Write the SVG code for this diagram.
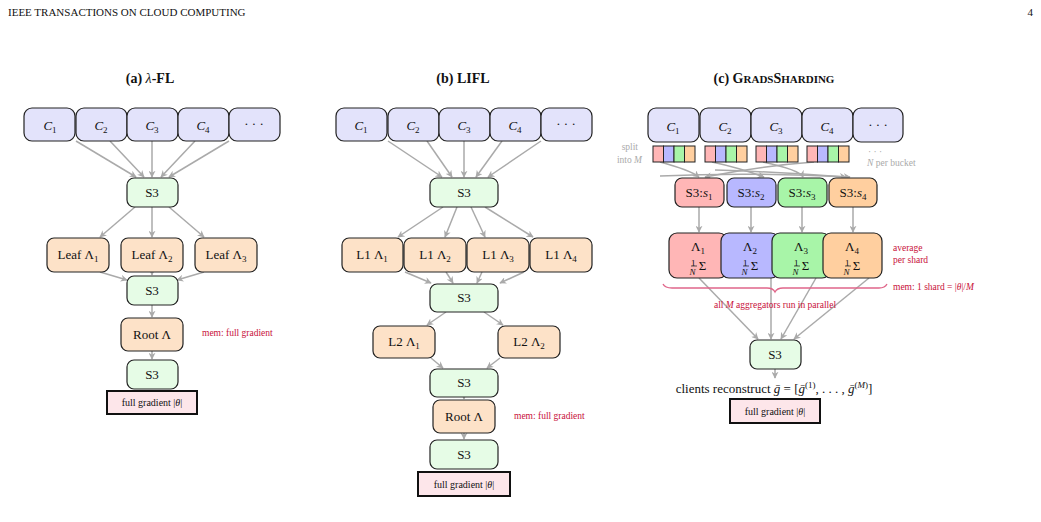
<svg xmlns="http://www.w3.org/2000/svg" width="1041" height="522" viewBox="0 0 1041 522">
<defs>
<marker id="ah" viewBox="0 0 10 10" refX="9" refY="5" markerWidth="7" markerHeight="7" orient="auto" markerUnits="userSpaceOnUse"><path d="M0,0 L10,5 L0,10 L3,5 z" fill="#aaa"/></marker>
</defs>
<style>
text{font-family:"Liberation Serif",serif;fill:#111}
.n{stroke:#222;stroke-width:1.2}
.c{fill:#e3e3fb}.s{fill:#e6fce6}.o{fill:#fde2c8}
.fg{fill:#fde6ea;stroke:#111;stroke-width:2}
.t{font-size:13px;text-anchor:middle}
.sm{font-size:10px;text-anchor:middle}
.mem{font-size:9.5px;fill:#c8103a}
.gr{font-size:9.5px;fill:#aaa}
.e path,.e line{stroke:#aaa;stroke-width:1.5;fill:none;marker-end:url(#ah)}
.ti{font-size:14px;font-weight:bold;text-anchor:middle}
.bk rect{stroke:#222;stroke-width:1}
</style>
<rect width="1041" height="522" fill="#fff"/>
<text x="8" y="16" font-size="11">IEEE TRANSACTIONS ON CLOUD COMPUTING</text>
<text x="1033" y="16" font-size="11" text-anchor="end">4</text>
<text class="ti" x="150" y="83">(a) <tspan font-style="italic" font-weight="normal">λ</tspan>-FL</text>
<text class="ti" x="463" y="83">(b) LIFL</text>
<text class="ti" x="774" y="83">(c) G<tspan font-size="11">RADS</tspan>S<tspan font-size="11">HARDING</tspan></text>

<g class="e" id="edges">
<!-- a -->
<line x1="76" y1="141" x2="136" y2="177"/><line x1="110" y1="141" x2="144" y2="177"/><line x1="152" y1="141" x2="152" y2="177"/><line x1="195" y1="141" x2="161" y2="177"/><line x1="229" y1="141" x2="169" y2="177"/>
<line x1="135" y1="207" x2="100" y2="237"/><line x1="152" y1="207" x2="152" y2="237"/><line x1="169" y1="207" x2="204" y2="237"/>
<line x1="100" y1="272" x2="127" y2="280"/><line x1="152" y1="262" x2="152" y2="275"/><line x1="204" y1="272" x2="177" y2="280"/>
<line x1="152" y1="305" x2="152" y2="317"/><line x1="152" y1="351" x2="152" y2="359"/>
<!-- b -->
<line x1="388" y1="141" x2="442" y2="177"/><line x1="427" y1="141" x2="452" y2="177"/><line x1="464" y1="141" x2="464" y2="177"/><line x1="502" y1="141" x2="476" y2="177"/><line x1="541" y1="141" x2="488" y2="177"/>
<line x1="443" y1="207" x2="398" y2="237"/><line x1="457" y1="207" x2="445" y2="237"/><line x1="471" y1="207" x2="485" y2="237"/><line x1="485" y1="207" x2="533" y2="237"/>
<line x1="405" y1="272" x2="431" y2="283"/><line x1="446" y1="272" x2="453" y2="283"/><line x1="482" y1="272" x2="477" y2="283"/><line x1="524" y1="272" x2="500" y2="283"/>
<line x1="446" y1="312" x2="427" y2="325"/><line x1="484" y1="312" x2="503" y2="325"/>
<line x1="431" y1="358" x2="443" y2="368"/><line x1="500" y1="358" x2="487" y2="368"/>
<line x1="464" y1="385" x2="464" y2="399"/><line x1="464" y1="425" x2="464" y2="439"/>
<!-- c -->
<path d="M660,162 Q690,170 699,177"/><path d="M712,162 Q740,168 764,177"/><path d="M763,162 Q800,170 803,177"/><path d="M660,176 Q750,172 850,177"/>
<path d="M814,162 Q760,166 705,177"/><path d="M715,170 Q780,172 846,177" />
<line x1="699" y1="207" x2="699" y2="232"/><line x1="751" y1="207" x2="751" y2="232"/><line x1="802" y1="207" x2="802" y2="232"/><line x1="853" y1="207" x2="853" y2="232"/>
<line x1="699" y1="278" x2="758" y2="339"/><line x1="771" y1="278" x2="771" y2="339"/><line x1="816" y1="278" x2="781" y2="339"/><line x1="869" y1="278" x2="794" y2="339"/>
<line x1="775" y1="369" x2="775" y2="378"/>
</g>

<g id="a-nodes">
<g id="a-c1"><rect class="n c" x="24" y="108" width="51" height="33" rx="8"/><text class="t" x="50" y="130" font-style="italic">C<tspan font-size="9" dy="3" font-style="normal">1</tspan></text></g>
<g id="a-c2"><rect class="n c" x="76" y="108" width="51" height="33" rx="8"/><text class="t" x="101" y="130" font-style="italic">C<tspan font-size="9" dy="3" font-style="normal">2</tspan></text></g>
<g id="a-c3"><rect class="n c" x="127" y="108" width="51" height="33" rx="8"/><text class="t" x="152" y="130" font-style="italic">C<tspan font-size="9" dy="3" font-style="normal">3</tspan></text></g>
<g id="a-c4"><rect class="n c" x="178" y="108" width="51" height="33" rx="8"/><text class="t" x="203" y="130" font-style="italic">C<tspan font-size="9" dy="3" font-style="normal">4</tspan></text></g>
<g id="a-c5"><rect class="n c" x="229" y="108" width="51" height="33" rx="8"/><text class="t" x="254" y="128">· · ·</text></g>
<g id="a-s1"><rect class="n s" x="127" y="178" width="51" height="29" rx="7"/><text class="t" x="152" y="197">S3</text></g>
<g id="a-l1"><rect class="n o" x="47" y="238" width="62" height="34" rx="7"/><text class="t" x="78" y="259">Leaf Λ<tspan font-size="9" dy="3">1</tspan></text></g>
<g id="a-l2"><rect class="n o" x="121" y="238" width="62" height="34" rx="7"/><text class="t" x="152" y="259">Leaf Λ<tspan font-size="9" dy="3">2</tspan></text></g>
<g id="a-l3"><rect class="n o" x="195" y="238" width="62" height="34" rx="7"/><text class="t" x="226" y="259">Leaf Λ<tspan font-size="9" dy="3">3</tspan></text></g>
<g id="a-s2"><rect class="n s" x="127" y="276" width="51" height="29" rx="7"/><text class="t" x="152" y="295">S3</text></g>
<g id="a-r"><rect class="n o" x="121" y="318" width="62" height="33" rx="7"/><text class="t" x="152" y="339">Root Λ</text></g>
<text class="mem" x="202" y="336">mem: full gradient</text>
<g id="a-s3"><rect class="n s" x="127" y="360" width="51" height="29" rx="7"/><text class="t" x="152" y="379">S3</text></g>
<g id="a-fg"><rect class="fg" x="107" y="391" width="90" height="23"/><text class="sm" x="152" y="406">full gradient |<tspan font-style="italic">θ</tspan>|</text></g>
</g>

<g id="b-nodes">
<g id="b-c1"><rect class="n c" x="336" y="108" width="51" height="33" rx="8"/><text class="t" x="361" y="130" font-style="italic">C<tspan font-size="9" dy="3" font-style="normal">1</tspan></text></g>
<g id="b-c2"><rect class="n c" x="388" y="108" width="51" height="33" rx="8"/><text class="t" x="413" y="130" font-style="italic">C<tspan font-size="9" dy="3" font-style="normal">2</tspan></text></g>
<g id="b-c3"><rect class="n c" x="439" y="108" width="51" height="33" rx="8"/><text class="t" x="464" y="130" font-style="italic">C<tspan font-size="9" dy="3" font-style="normal">3</tspan></text></g>
<g id="b-c4"><rect class="n c" x="490" y="108" width="51" height="33" rx="8"/><text class="t" x="515" y="130" font-style="italic">C<tspan font-size="9" dy="3" font-style="normal">4</tspan></text></g>
<g id="b-c5"><rect class="n c" x="541" y="108" width="51" height="33" rx="8"/><text class="t" x="566" y="128">· · ·</text></g>
<g id="b-s1"><rect class="n s" x="430" y="178" width="68" height="29" rx="7"/><text class="t" x="464" y="197">S3</text></g>
<g id="b-l1"><rect class="n o" x="342" y="238" width="61" height="34" rx="7"/><text class="t" x="372" y="259">L1 Λ<tspan font-size="9" dy="3">1</tspan></text></g>
<g id="b-l2"><rect class="n o" x="404" y="238" width="62" height="34" rx="7"/><text class="t" x="435" y="259">L1 Λ<tspan font-size="9" dy="3">2</tspan></text></g>
<g id="b-l3"><rect class="n o" x="467" y="238" width="62" height="34" rx="7"/><text class="t" x="498" y="259">L1 Λ<tspan font-size="9" dy="3">3</tspan></text></g>
<g id="b-l4"><rect class="n o" x="530" y="238" width="62" height="34" rx="7"/><text class="t" x="561" y="259">L1 Λ<tspan font-size="9" dy="3">4</tspan></text></g>
<g id="b-s2"><rect class="n s" x="430" y="284" width="68" height="28" rx="7"/><text class="t" x="464" y="302">S3</text></g>
<g id="b-m1"><rect class="n o" x="373" y="326" width="62" height="32" rx="7"/><text class="t" x="404" y="346">L2 Λ<tspan font-size="9" dy="3">1</tspan></text></g>
<g id="b-m2"><rect class="n o" x="498" y="326" width="62" height="32" rx="7"/><text class="t" x="529" y="346">L2 Λ<tspan font-size="9" dy="3">2</tspan></text></g>
<g id="b-s3"><rect class="n s" x="430" y="369" width="68" height="28" rx="7"/><text class="t" x="464" y="387">S3</text></g>
<g id="b-r"><rect class="n o" x="433" y="400" width="62" height="33" rx="7"/><text class="t" x="464" y="421">Root Λ</text></g>
<text class="mem" x="514" y="419">mem: full gradient</text>
<g id="b-s4"><rect class="n s" x="430" y="440" width="68" height="29" rx="7"/><text class="t" x="464" y="459">S3</text></g>
<g id="b-fg"><rect class="fg" x="418" y="472" width="92" height="24"/><text class="sm" x="464" y="488">full gradient |<tspan font-style="italic">θ</tspan>|</text></g>
</g>

<g id="c-nodes">
<g id="c-c1"><rect class="n c" x="648" y="108" width="51" height="34" rx="8"/><text class="t" x="673" y="131" font-style="italic">C<tspan font-size="9" dy="3" font-style="normal">1</tspan></text></g>
<g id="c-c2"><rect class="n c" x="700" y="108" width="51" height="34" rx="8"/><text class="t" x="725" y="131" font-style="italic">C<tspan font-size="9" dy="3" font-style="normal">2</tspan></text></g>
<g id="c-c3"><rect class="n c" x="751" y="108" width="51" height="34" rx="8"/><text class="t" x="776" y="131" font-style="italic">C<tspan font-size="9" dy="3" font-style="normal">3</tspan></text></g>
<g id="c-c4"><rect class="n c" x="802" y="108" width="51" height="34" rx="8"/><text class="t" x="827" y="131" font-style="italic">C<tspan font-size="9" dy="3" font-style="normal">4</tspan></text></g>
<g id="c-c5"><rect class="n c" x="853" y="108" width="50" height="34" rx="8"/><text class="t" x="878" y="129">· · ·</text></g>
<g id="buckets" class="bk">
<rect x="653" y="146" width="10.5" height="16" fill="#ffb6b6"/><rect x="663.5" y="146" width="10.5" height="16" fill="#b8b8ff"/><rect x="674" y="146" width="10.5" height="16" fill="#a8f5a8"/><rect x="684.5" y="146" width="10.5" height="16" fill="#ffcf9f"/>
<rect x="705" y="146" width="10.5" height="16" fill="#ffb6b6"/><rect x="715.5" y="146" width="10.5" height="16" fill="#b8b8ff"/><rect x="726" y="146" width="10.5" height="16" fill="#a8f5a8"/><rect x="736.5" y="146" width="10.5" height="16" fill="#ffcf9f"/>
<rect x="756" y="146" width="10.5" height="16" fill="#ffb6b6"/><rect x="766.5" y="146" width="10.5" height="16" fill="#b8b8ff"/><rect x="777" y="146" width="10.5" height="16" fill="#a8f5a8"/><rect x="787.5" y="146" width="10.5" height="16" fill="#ffcf9f"/>
<rect x="807" y="146" width="10.5" height="16" fill="#ffb6b6"/><rect x="817.5" y="146" width="10.5" height="16" fill="#b8b8ff"/><rect x="828" y="146" width="10.5" height="16" fill="#a8f5a8"/><rect x="838.5" y="146" width="10.5" height="16" fill="#ffcf9f"/>
</g>
<text class="gr" x="638" y="150" text-anchor="end">split</text>
<text class="gr" x="642" y="163" text-anchor="end">into <tspan font-style="italic">M</tspan></text>
<text class="gr" x="868" y="155">· · ·</text>
<text class="gr" x="867" y="166"><tspan font-style="italic">N</tspan> per bucket</text>
<g id="c-s1"><rect class="n" fill="#ffb6b6" x="675" y="178" width="49" height="29" rx="7"/><text class="t" x="699" y="197">S3:<tspan font-style="italic">s</tspan><tspan font-size="9" dy="3">1</tspan></text></g>
<g id="c-s2"><rect class="n" fill="#b8b8ff" x="727" y="178" width="49" height="29" rx="7"/><text class="t" x="751" y="197">S3:<tspan font-style="italic">s</tspan><tspan font-size="9" dy="3">2</tspan></text></g>
<g id="c-s3"><rect class="n" fill="#a8f5a8" x="778" y="178" width="49" height="29" rx="7"/><text class="t" x="802" y="197">S3:<tspan font-style="italic">s</tspan><tspan font-size="9" dy="3">3</tspan></text></g>
<g id="c-s4"><rect class="n" fill="#ffcf9f" x="829" y="178" width="48" height="29" rx="7"/><text class="t" x="853" y="197">S3:<tspan font-style="italic">s</tspan><tspan font-size="9" dy="3">4</tspan></text></g>
<g id="c-a1"><rect class="n" fill="#ffb6b6" x="669" y="233" width="58" height="45" rx="8"/><text class="t" x="698" y="251">Λ<tspan font-size="9" dy="3">1</tspan></text><text class="t" x="698" y="270"><tspan font-size="9" dy="-4">1</tspan><tspan font-size="9" font-style="italic" dx="-6" dy="9">N</tspan><tspan dy="-5"> Σ</tspan></text></g>
<g id="c-a2"><rect class="n" fill="#b8b8ff" x="721" y="233" width="58" height="45" rx="8"/><text class="t" x="750" y="251">Λ<tspan font-size="9" dy="3">2</tspan></text><text class="t" x="750" y="270"><tspan font-size="9" dy="-4">1</tspan><tspan font-size="9" font-style="italic" dx="-6" dy="9">N</tspan><tspan dy="-5"> Σ</tspan></text></g>
<g id="c-a3"><rect class="n" fill="#a8f5a8" x="772" y="233" width="58" height="45" rx="8"/><text class="t" x="801" y="251">Λ<tspan font-size="9" dy="3">3</tspan></text><text class="t" x="801" y="270"><tspan font-size="9" dy="-4">1</tspan><tspan font-size="9" font-style="italic" dx="-6" dy="9">N</tspan><tspan dy="-5"> Σ</tspan></text></g>
<g id="c-a4"><rect class="n" fill="#ffcf9f" x="823" y="233" width="59" height="45" rx="8"/><text class="t" x="852" y="251">Λ<tspan font-size="9" dy="3">4</tspan></text><text class="t" x="852" y="270"><tspan font-size="9" dy="-4">1</tspan><tspan font-size="9" font-style="italic" dx="-6" dy="9">N</tspan><tspan dy="-5"> Σ</tspan></text></g>
<g stroke="#333" stroke-width="0.8"><line x1="691" y1="266" x2="697" y2="266"/><line x1="743" y1="266" x2="749" y2="266"/><line x1="794" y1="266" x2="800" y2="266"/><line x1="845" y1="266" x2="851" y2="266"/></g>
<text class="mem" x="893" y="251">average</text>
<text class="mem" x="893" y="263">per shard</text>
<path d="M663,284 Q665,288 672,288 L767,288 Q773,288 775,292 Q777,288 783,288 L879,288 Q885,288 887,284" fill="none" stroke="#e0668a" stroke-width="1.3"/>
<text class="mem" x="893" y="290">mem: 1 shard = |<tspan font-style="italic">θ</tspan>|/<tspan font-style="italic">M</tspan></text>
<text class="mem" x="775" y="308" text-anchor="middle">all <tspan font-style="italic">M</tspan> aggregators run in parallel</text>
<g id="c-s"><rect class="n s" x="750" y="340" width="51" height="29" rx="7"/><text class="t" x="775" y="359">S3</text></g>
<text class="t" x="774" y="393">clients reconstruct <tspan font-style="italic">ḡ</tspan> = [<tspan font-style="italic">ḡ</tspan><tspan font-size="9" dy="-5">(1)</tspan><tspan dy="5">, . . . , </tspan><tspan font-style="italic">ḡ</tspan><tspan font-size="9" dy="-5">(<tspan font-style="italic">M</tspan>)</tspan><tspan dy="5">]</tspan></text>
<g id="c-fg"><rect class="fg" x="730" y="399" width="90" height="24"/><text class="sm" x="775" y="415">full gradient |<tspan font-style="italic">θ</tspan>|</text></g>
</g>
</svg>
